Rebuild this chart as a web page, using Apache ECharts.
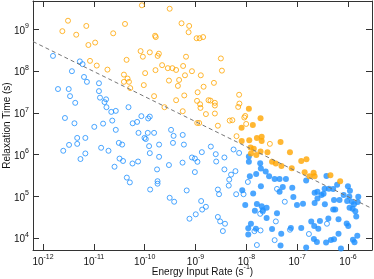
<!DOCTYPE html>
<html><head><meta charset="utf-8">
<script src="https://cdn.jsdelivr.net/npm/echarts@6/dist/echarts.min.js"></script>
<style>html,body{margin:0;padding:0;background:#fff}#c{width:374px;height:279px}</style>
</head><body><div id="c"></div>
<script>
// Axis ranges
var xRange = [6.35e-13, 2.96e-6];
var yRange = [5.17e3, 4.75e9];
var xTitle = 'Energy Input Rate (s';
var xTitleSup = '-1';
var yTitle = 'Relaxation Time (s)';

// Orange, open circles
var orangeOpenX = [3.1e-12,7.1e-12,2.4e-12,4.5e-12,2.4e-11,1.06e-11,7.8e-12,8.4e-12,1.14e-11,1.85e-11,
 8.8e-11,3.1e-10,4.1e-11,5.3e-10,7.5e-10,7.3e-10,1.6e-10,1.65e-10,1.05e-9,1.2e-9,1.41e-9,
 8.3e-11,1.26e-10,1.9e-10,1.8e-10,9.2e-11,6.5e-10,4.4e-11,2.2e-10,2.85e-10,3.5e-10,4.15e-10,5.7e-10,
 1.63e-10,8.5e-10,1.02e-10,3.9e-11,4.6e-11,6.2e-10,1.27e-9,3.0e-10,4.75e-10,3.9e-11,4.9e-11,
 9.6e-11,4.5e-10,5.2e-11,1.44e-9,1.1e-9,1.53e-10,6.0e-10,4.15e-10,1.07e-9,1.8e-9,1.97e-9,1.23e-9,
 1.25e-9,2.45e-10,5.6e-10,1.6e-9,3.15e-9,3.3e-9,2.3e-9,7.2e-9,2.4e-9,2.4e-9,7.3e-9,6.9e-9,2.4e-9,
 9.5e-9,9.1e-9,4.7e-9,5.3e-9,9.9e-9,2.75e-9,1.08e-9,1.18e-9,6.4e-9,2.9e-8];
var orangeOpenY = [1.6e9,1.2e9,9.0e8,7.4e8,8.0e8,4.8e8,4.2e8,1.75e8,1.35e8,1.08e8,
 3.75e9,3.1e9,1.34e9,1.39e9,1.2e9,8.5e8,7.0e8,6.5e8,6.1e8,6.1e8,6.5e8,
 3.0e8,2.8e8,2.6e8,2.3e8,2.2e8,2.2e8,1.85e8,1.38e8,1.17e8,1.17e8,1.06e8,1.32e8,
 1.05e8,9.9e7,8.9e7,8.2e7,6.6e7,7.9e7,7.9e7,5.9e7,6.1e7,5.5e7,5.5e7,
 4.6e7,4.4e7,3.9e7,4.2e7,3.1e7,2.5e7,2.6e7,2.0e7,1.93e7,2.0e7,1.96e7,1.6e7,
 1.31e7,1.36e7,1.09e7,9.3e6,2.0e8,1.02e8,5.2e7,2.7e7,1.73e7,1.49e7,1.66e7,1.38e7,9.6e6,
 8.4e6,7.7e6,6.5e6,6.65e6,5.4e6,4.9e6,5.7e6,5.7e6,2.75e6,1.8e6];

// Orange, filled circles
var orangeFilledX = [1.12e-8,1.9e-8,1.34e-8,8.05e-9,1.61e-8,2.0e-8,2.0e-8,1.14e-8,8.1e-9,1.21e-8,1.4e-8,
 1.9e-8,1.23e-8,1.57e-8,2.6e-8,4.7e-8,7.2e-8,3.2e-8,3.8e-8,4.9e-8,7.8e-8,1.2e-7,1.52e-7,1.4e-7,
 1.74e-7,2.1e-7,2.2e-7,4.5e-7,7.0e-7];
var orangeFilledY = [1.24e7,7.4e6,5.1e6,4.35e6,2.5e6,2.65e6,2.1e6,2.2e6,2.1e6,1.47e6,1.37e6,
 1.18e6,1.06e6,9.8e5,1.13e6,2.0e6,1.14e6,6.7e5,6.1e5,5.3e5,4.7e5,7.0e5,7.7e5,3.75e5,
 3.0e5,3.65e5,3.0e5,3.2e5,2.3e5];

// Blue, open circles
var blueOpenX = [1.57e-12,5.3e-12,6.0e-12,3.7e-12,6.4e-12,7.3e-12,1.26e-11,1.97e-12,3.2e-12,1.26e-11,
 3.4e-12,1.32e-11,1.74e-11,4.3e-12,1.62e-11,1.77e-11,2.2e-11,2.7e-11,2.7e-12,2.3e-11,4.15e-12,1.52e-11,
 1.02e-11,4.8e-11,8.6e-11,1.17e-10,1.26e-10,5.8e-11,7.1e-11,2.7e-11,4.7e-12,6.8e-12,3.25e-12,4.7e-12,
 2.5e-12,1.39e-11,1.94e-11,6.8e-12,5.45e-12,2.55e-11,7.55e-11,1.15e-10,1.53e-10,3.3e-10,3.7e-10,
 9.9e-11,1.05e-10,5.6e-10,3.1e-11,3.6e-11,1.22e-10,1.92e-10,3.6e-10,5.9e-10,1.26e-10,3.2e-11,3.75e-11,
 5.75e-11,7.4e-11,1.92e-10,3.0e-10,5.55e-10,8.5e-10,9.7e-10,1.09e-9,1.33e-9,1.75e-10,9.7e-10,4.45e-11,
 5.1e-11,1.79e-10,1.79e-10,1.28e-10,6.7e-10,3.1e-10,3.8e-10,1.29e-9,1.6e-9,1.35e-9,1.01e-9,7.6e-10,
 2.0e-9,2.5e-9,3.7e-9,2.55e-9,5.6e-9,7.2e-9,3.7e-9,6.1e-9,5.0e-9,4.6e-9,4.5e-9,2.75e-9,2.9e-9,6.3e-9,
 8.8e-9,1.07e-8,2.75e-9,3.05e-9,3.8e-9,3.45e-9,1.87e-8,2.1e-8,3.8e-8,5.7e-8,1.44e-8,1.9e-8,3.6e-8,
 1.61e-8,7.2e-8,3.85e-7,1.7e-7,4.0e-8];
var blueOpenY = [2.3e8,1.7e8,1.46e8,9.9e7,7.2e7,5.5e7,5.1e7,3.7e7,3.7e7,3.3e7,
 2.5e7,2.3e7,2.1e7,1.73e7,1.8e7,1.36e7,1.05e7,1.11e7,7.5e6,6.5e6,5.6e6,5.5e6,
 4.6e6,1.36e7,8.3e6,7.3e6,8.1e6,5.6e6,6.05e6,3.9e6,2.5e6,2.5e6,1.7e6,1.8e6,
 1.23e6,1.45e6,1.23e6,1.06e6,7.8e5,5.1e5,3.3e6,3.3e6,3.3e6,3.9e6,2.8e6,
 2.5e6,2.35e6,2.95e6,1.9e6,1.73e6,1.59e6,1.73e6,1.9e6,1.73e6,1.08e6,8.0e5,7.0e5,
 6.1e5,6.8e5,8.8e5,5.6e5,6.4e5,8.5e5,8.0e5,6.7e5,1.14e6,4.4e5,3.8e5,2.8e5,
 2.15e5,2.3e5,2.0e5,1.45e5,1.38e5,9.2e4,7.4e4,7.7e4,5.6e4,4.8e4,3.7e4,2.9e4,
 1.55e6,1.02e6,8.5e5,6.8e5,1.32e6,1.09e6,4.4e5,4.0e5,3.3e5,2.5e5,1.8e5,1.45e5,1.12e5,1.12e5,
 1.12e5,2.2e5,3.2e4,2.5e4,2.2e4,1.47e4,3.8e4,4.3e4,2.5e4,7.4e4,1.46e4,1.52e4,8.9e3,
 6.8e3,1.58e4,2.2e4,1.25e4,1.5e5];

// Blue, filled circles
var blueFilledX = [1.12e-8,1.12e-8,1.87e-8,1.93e-8,2.4e-8,2.8e-8,1.17e-8,1.56e-8,3.6e-8,4.5e-8,6.0e-8,
 5.2e-8,8.0e-8,1.93e-8,4.5e-8,1.36e-8,8.3e-9,8.4e-8,9.5e-9,1.61e-8,2.0e-8,2.1e-8,1.47e-8,2.5e-8,
 4.0e-8,2.5e-8,1.09e-8,1.23e-8,1.54e-8,1.09e-8,3.2e-8,4.85e-8,7.5e-8,4.7e-8,
 3.76e-7,1.5e-7,6.1e-7,9.95e-7,3.46e-7,4.2e-7,5.1e-7,1.09e-6,2.2e-7,2.5e-7,3.3e-7,3.0e-7,8.2e-7,
 1.55e-6,5.3e-7,6.8e-7,2.5e-7,2.2e-7,9.6e-7,1.19e-6,1.31e-6,1.23e-6,1.39e-6,1.45e-6,1.07e-6,
 9.9e-8,1.3e-7,5.1e-7,5.6e-7,1.2e-7,1.89e-7,2.8e-7,2.16e-7,2.6e-7,4.1e-7,6.5e-7,9.4e-7,1.01e-6,
 1.52e-6,2.13e-7,2.44e-7,3.7e-7,4.6e-7,5.3e-7,1.25e-6,1.34e-6,6.5e-7,1.5e-7,7.25e-7,1.59e-6,1.06e-6,3.5e-7];
var blueFilledY = [9.0e5,6.7e5,6.2e5,4.6e5,3.9e5,3.0e5,3.0e5,3.4e5,2.6e5,2.6e5,2.6e5,
 1.66e5,1.6e5,1.73e5,1.29e5,1.17e5,1.39e5,9.6e4,6.2e4,6.5e4,5.8e4,4.6e4,4.5e4,5.3e4,
 3.9e4,3.0e4,1.72e4,2.2e4,1.67e4,1.22e4,1.64e4,1.27e4,1.73e4,6.6e3,
 3.05e5,2.4e5,1.88e5,1.73e5,1.51e5,1.51e5,1.49e5,1.36e5,1.21e5,1.28e5,1.15e5,1.07e5,1.07e5,
 7.3e4,8.2e4,8.2e4,8.9e4,6.9e4,7.7e4,7.4e4,6.4e4,5.0e4,4.4e4,3.3e4,5.3e4,
 6.2e4,6.6e4,4.8e4,4.8e4,1.74e4,2.5e4,2.55e4,1.94e4,1.67e4,2.95e4,2.8e4,2.24e4,1.94e4,
 1.14e4,9.5e3,8.0e3,7.85e3,9.0e3,9.3e3,9.1e3,7.9e3,1.27e4,5.9e3,5.6e3,9.7e4,9.9e4,6.4e4];

// Dashed guide line (end points)
var guideX = [6.35e-13, 2.96e-6];
var guideY = [5.07e8, 5.1e4];

function pairs(xs, ys){ return xs.map(function(x,i){ return [x, ys[i]]; }); }

var FONT = 'Liberation Sans, Arial, Helvetica, sans-serif';
var BLUE = '#1E90FF', ORANGE = '#FFA500';
var richTick = {
  b: {fontSize: 10, fontFamily: FONT, color: '#111', verticalAlign: 'bottom', lineHeight: 13},
  s: {fontSize: 7, fontFamily: FONT, color: '#111', verticalAlign: 'top', lineHeight: 8}
};
function powLabel(v){
  var l = Math.log10(v), e = Math.round(l);
  if (Math.abs(l - e) > 0.01) return '';
  return '{b|10}{s|' + e + '}';
}
var axisLineStyle = {color: '#333', width: 1};
var tickStyle = {inside: true, length: 6, lineStyle: {color: '#333', width: 1}};

var chart = echarts.init(document.getElementById('c'), null, {renderer: 'canvas'});
chart.setOption({
  animation: false,
  backgroundColor: '#fff',
  grid: {left: 33, right: 2, top: 1, bottom: 29, containLabel: false, outerBoundsMode: 'none'},
  xAxis: [{
    type: 'log', logBase: 10, min: xRange[0], max: xRange[1], position: 'bottom',
    axisLine: {show: true, lineStyle: axisLineStyle},
    axisTick: tickStyle, minorTick: {show: false}, splitLine: {show: false},
    axisLabel: {formatter: powLabel, rich: richTick, margin: 4, showMinLabel: false, showMaxLabel: false},
    name: '{t|' + xTitle + '}{s|' + xTitleSup + '}{t|)}',
    nameLocation: 'middle', nameGap: 14, nameMoveOverlap: false,
    nameTextStyle: {verticalAlign: 'top', rich: {
      t: {fontSize: 10, fontFamily: FONT, color: '#111', verticalAlign: 'bottom', lineHeight: 13},
      s: {fontSize: 7, fontFamily: FONT, color: '#111', verticalAlign: 'top', lineHeight: 8}}}
  }, {
    type: 'log', logBase: 10, min: xRange[0], max: xRange[1], position: 'top',
    axisLine: {show: true, lineStyle: axisLineStyle},
    axisTick: tickStyle, axisLabel: {show: false}, splitLine: {show: false}
  }],
  yAxis: [{
    type: 'log', logBase: 10, min: yRange[0], max: yRange[1], position: 'left',
    axisLine: {show: true, lineStyle: axisLineStyle},
    axisTick: tickStyle, minorTick: {show: false}, splitLine: {show: false},
    axisLabel: {formatter: powLabel, rich: richTick, margin: 4, showMinLabel: false, showMaxLabel: false},
    name: yTitle, nameLocation: 'middle', nameGap: 21, nameRotate: 90, nameMoveOverlap: false,
    nameTextStyle: {fontSize: 10, fontFamily: FONT, color: '#111', verticalAlign: 'bottom'}
  }, {
    type: 'log', logBase: 10, min: yRange[0], max: yRange[1], position: 'right',
    axisLine: {show: true, lineStyle: axisLineStyle},
    axisTick: tickStyle, axisLabel: {show: false}, splitLine: {show: false}
  }],
  series: [
    {type: 'scatter', data: pairs(blueOpenX, blueOpenY), symbol: 'circle', symbolSize: 5,
     itemStyle: {color: 'rgba(0,0,0,0)', borderColor: BLUE, borderWidth: 1}},
    {type: 'scatter', data: pairs(orangeOpenX, orangeOpenY), symbol: 'circle', symbolSize: 5,
     itemStyle: {color: 'rgba(0,0,0,0)', borderColor: ORANGE, borderWidth: 1}},
    {type: 'scatter', data: pairs(blueFilledX, blueFilledY), symbol: 'circle', symbolSize: 6,
     itemStyle: {color: BLUE, borderWidth: 0}},
    {type: 'scatter', data: pairs(orangeFilledX, orangeFilledY), symbol: 'circle', symbolSize: 6,
     itemStyle: {color: ORANGE, borderWidth: 0}},
    {type: 'line', data: pairs(guideX, guideY), symbol: 'none', silent: true,
     lineStyle: {color: '#777', width: 1, type: [4, 3]}}
  ]
});
</script></body></html>
